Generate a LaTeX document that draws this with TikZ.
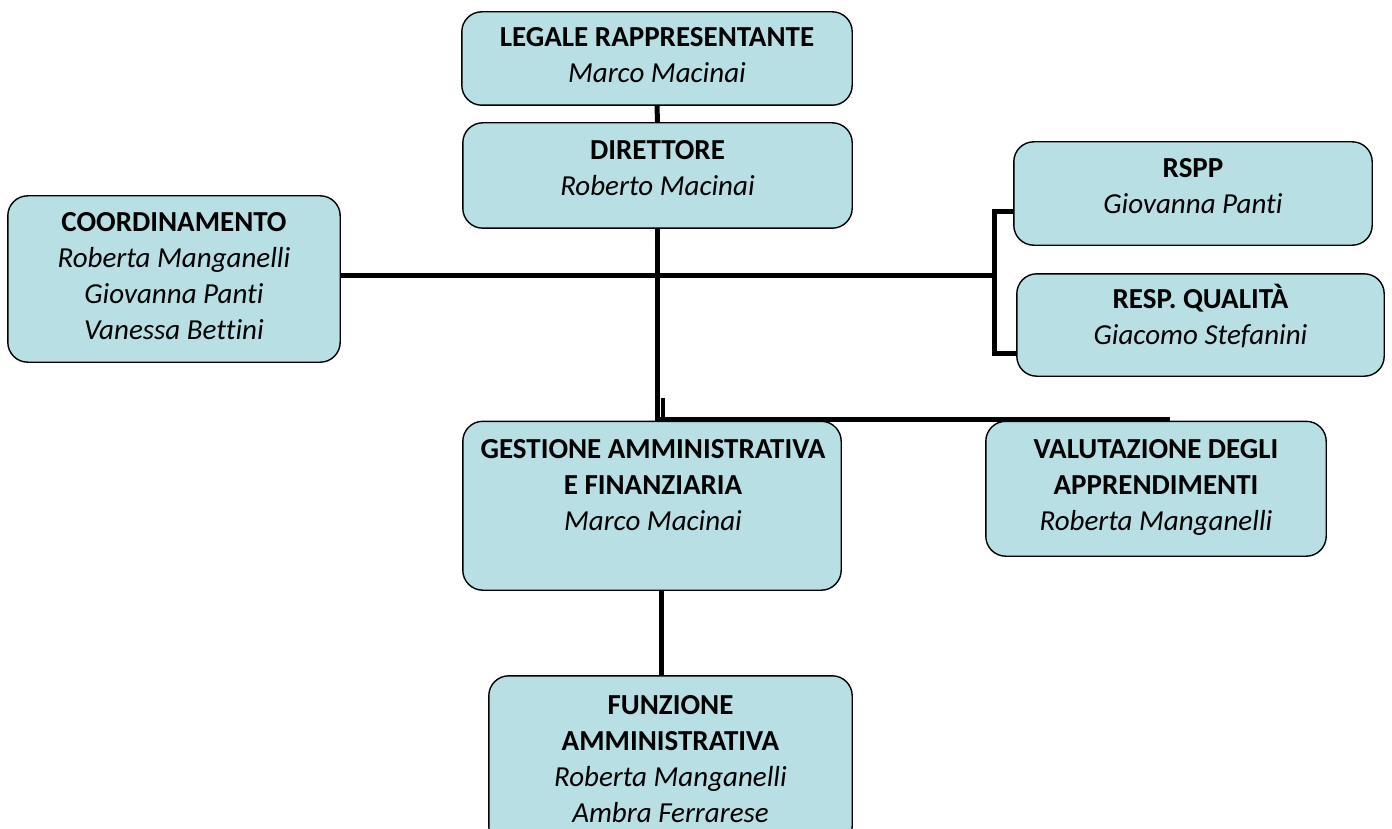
\documentclass[tikz,border=0pt]{standalone}
\usepackage{fontspec}
\setmainfont{Carlito}[Ligatures=NoCommon]
\definecolor{boxfill}{HTML}{B8DFE3}
\begin{document}
\begin{tikzpicture}[x=1pt,y=-1pt,
  box/.style={draw=black, line width=1.4pt, fill=boxfill, rounded corners=20pt, inner sep=0pt, rectangle},
  txt/.style={anchor=north, inner sep=0pt, align=center, font=\fontsize{29}{36}\selectfont},
  conn/.style={draw=black, line width=5pt}]
\clip (0,0) rectangle (1392,829);
\fill[white] (0,0) rectangle (1392,829);
% coordinates for connector routing
\coordinate (j) at (994.5,275.5);
\coordinate (bTop) at (994.5,211.5);
\coordinate (bBot) at (994.5,353.5);
\coordinate (s1) at (662.8,398);
\coordinate (s2) at (662.8,421.5);
\coordinate (hL) at (658,419.3);
\coordinate (hR) at (1170,419.3);
% boxes (placed first as invisible path to get anchors)
\path
  node[minimum width=390pt, minimum height=93pt] (legale) at (657,58.5) {}
  node[minimum width=389pt, minimum height=105pt] (direttore) at (657.5,175.5) {}
  node[minimum width=332pt, minimum height=166pt] (coord) at (174,279) {}
  node[minimum width=358pt, minimum height=103pt] (rspp) at (1193,193.5) {}
  node[minimum width=367pt, minimum height=102pt] (resp) at (1200.5,325) {}
  node[minimum width=378pt, minimum height=168.5pt] (gestione) at (652,505.75) {}
  node[minimum width=340pt, minimum height=134.5pt] (valut) at (1156,488.75) {}
  node[minimum width=363pt, minimum height=170pt] (funz) at (670.5,761) {};
% connectors
\draw[conn] (legale.south) -- (direttore.north);
\draw[conn] (direttore.south) -- (direttore.south |- gestione.north);
\draw[draw=black, line width=4.4pt] (s1) -- (s2);
\draw[draw=black, line width=4.6pt] (hL) -- (hR);
\draw[conn] (coord.east |- j) -- (j);
\draw[conn] (rspp.west |- bTop) -- (bTop) -- (bBot) -- (resp.west |- bBot);
\draw[conn] ([xshift=9.5pt]gestione.south) -- ([xshift=9.5pt]gestione.south |- funz.north);
% visible boxes
\foreach \n in {legale,direttore,coord,rspp,resp,gestione,valut,funz}{
  \draw[box] (\n.north west) rectangle (\n.south east);
}
% texts
\node[txt] (legaleT) at (657,37-16.2) {\strut\textbf{LEGALE RAPPRESENTANTE}\\\textit{Marco Macinai}};
\node[txt] (direttoreT) at (657.5,150-16.2) {\strut\textbf{DIRETTORE}\\\textit{Roberto Macinai}};
\node[txt] (coordT) at (174,222-16.2) {\strut\textbf{COORDINAMENTO}\\\textit{Roberta Manganelli}\\\textit{Giovanna Panti}\\\textit{Vanessa Bettini}};
\node[txt] (rsppT) at (1193,168-16.2) {\strut\textbf{RSPP}\\\textit{Giovanna Panti}};
\node[txt] (respT) at (1200.5,299-16.2) {\strut\textbf{RESP. QUALITÀ}\\\textit{Giacomo Stefanini}};
\node[txt] (gestioneT) at (653,449-16.2) {\strut\textbf{GESTIONE AMMINISTRATIVA}\\\textbf{E FINANZIARIA}\\\textit{Marco Macinai}};
\node[txt] (valutT) at (1156,449-16.2) {\strut\textbf{VALUTAZIONE DEGLI}\\\textbf{APPRENDIMENTI}\\\textit{Roberta Manganelli}};
\node[txt] (funzT) at (670.5,705-16.2) {\strut\textbf{FUNZIONE}\\\textbf{AMMINISTRATIVA}\\\textit{Roberta Manganelli}\\\textit{Ambra Ferrarese}};
\end{tikzpicture}
\end{document}
